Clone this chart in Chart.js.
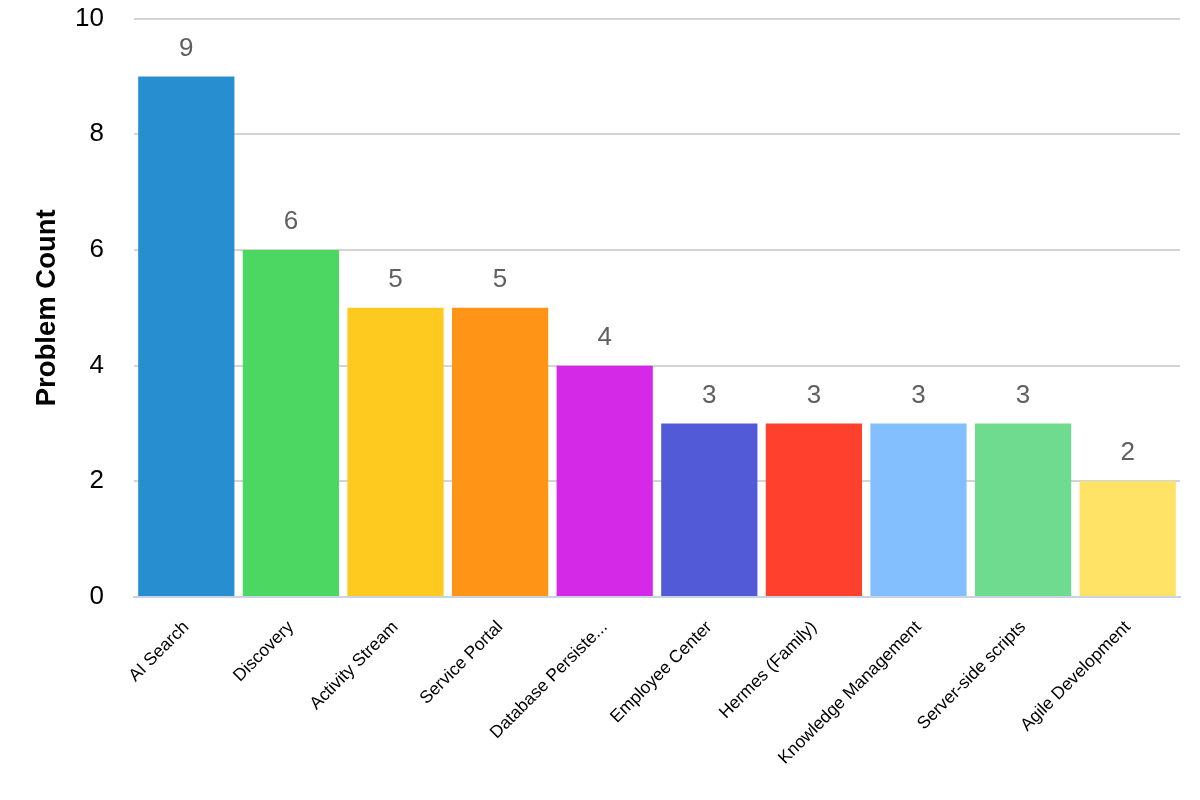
<!DOCTYPE html>
<html>
<head>
<meta charset="utf-8">
<script src="https://cdn.jsdelivr.net/npm/chart.js@4/dist/chart.umd.min.js"></script>
<style>
html,body{margin:0;padding:0;background:#fff;}
#wrap{width:1200px;height:800px;position:relative;}
</style>
</head>
<body>
<div id="wrap"><canvas id="c" width="1200" height="800"></canvas></div>
<script>
const categories = ["AI Search","Discovery","Activity Stream","Service Portal","Database Persiste...","Employee Center","Hermes (Family)","Knowledge Management","Server-side scripts","Agile Development"];
const problemCounts = [9,6,5,5,4,3,3,3,3,2];
const barColors = ["#278ECF","#4BD762","#FFCA1F","#FF9416","#D42AE8","#535AD7","#FF402C","#83BFFF","#6FDB8F","#FFE366"];
const yTicks = [0,2,4,6,8,10];

const valueLabels = {
  id: 'valueLabels',
  afterDatasetsDraw(chart) {
    const ctx = chart.ctx;
    const meta = chart.getDatasetMeta(0);
    ctx.save();
    ctx.font = '26px "Liberation Sans", Arial, sans-serif';
    ctx.fillStyle = '#606060';
    ctx.textAlign = 'center';
    ctx.textBaseline = 'middle';
    meta.data.forEach((bar, i) => {
      ctx.fillText(String(problemCounts[i]), bar.x, bar.y - 28);
    });
    ctx.restore();
  }
};

new Chart(document.getElementById('c'), {
  type: 'bar',
  data: {
    labels: categories,
    datasets: [{
      data: problemCounts,
      backgroundColor: barColors,
      borderWidth: 0,
      barPercentage: 0.92,
      categoryPercentage: 1.0
    }]
  },
  options: {
    responsive: false,
    animation: false,
    layout: { padding: { left: 0, right: 20, top: 0, bottom: 0 } },
    plugins: { legend: { display: false }, tooltip: { enabled: false } },
    scales: {
      x: {
        grid: { display: false, drawTicks: false },
        border: { display: true, color: '#C9D3E6', width: 2 },
        ticks: {
          color: '#000',
          font: { family: '"Liberation Sans", Arial, sans-serif', size: 17.5 },
          minRotation: 45, maxRotation: 45, autoSkip: false, padding: 20
        },
        afterFit(scale) { scale.height = 203; }
      },
      y: {
        min: 0, max: 10,
        afterBuildTicks(scale) { scale.ticks = yTicks.map(v => ({ value: v })); },
        grid: { color: '#D4D4D4', lineWidth: 2, drawTicks: true, tickLength: 27, tickColor: 'rgba(0,0,0,0)' },
        border: { display: false },
        ticks: {
          color: '#000',
          font: { family: '"Liberation Sans", Arial, sans-serif', size: 26 },
          padding: 3
        },
        title: {
          display: true,
          text: 'Problem Count',
          color: '#000',
          font: { family: '"Liberation Sans", Arial, sans-serif', size: 27.5, weight: 'bold' },
          padding: { top: 31, bottom: 0 }
        },
        afterFit(scale) { scale.width = 134; }
      }
    }
  },
  plugins: [valueLabels]
});
</script>
</body>
</html>
